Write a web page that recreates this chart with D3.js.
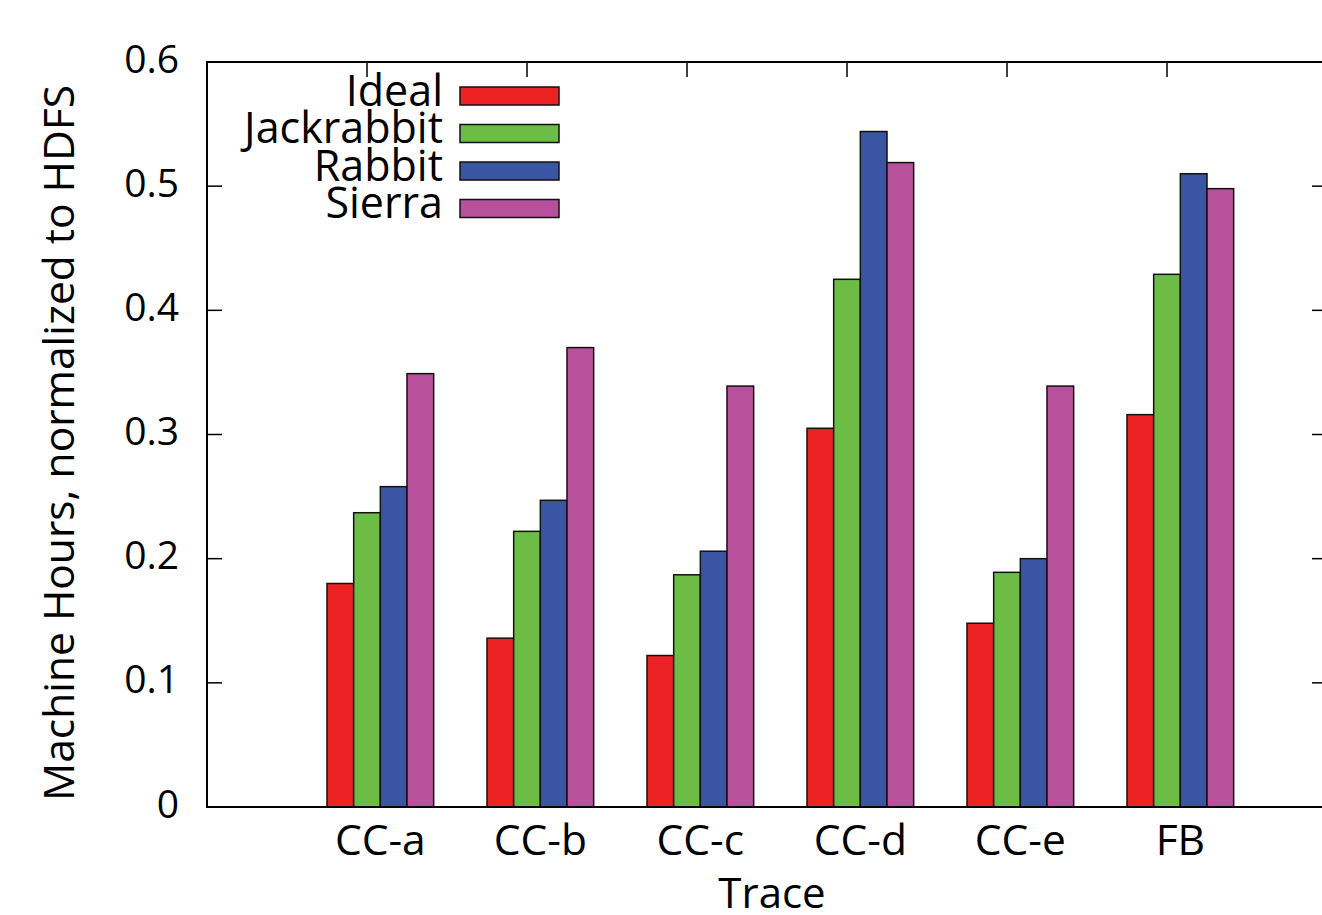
<!DOCTYPE html>
<html>
<head>
<meta charset="utf-8">
<script src="https://cdn.jsdelivr.net/npm/d3@7"></script>
<style>
  body { margin: 0; background: #fff; }
  text { font-family: "Open Sans", sans-serif; fill: #000; }
</style>
</head>
<body>
<div class="chart"></div>
<script>
// data
const traces = ["CC-a", "CC-b", "CC-c", "CC-d", "CC-e", "FB"];
const seriesNames = ["Ideal", "Jackrabbit", "Rabbit", "Sierra"];
const ideal      = [0.180, 0.136, 0.122, 0.305, 0.148, 0.316];
const jackrabbit = [0.237, 0.222, 0.187, 0.425, 0.189, 0.429];
const rabbit     = [0.258, 0.247, 0.206, 0.544, 0.200, 0.510];
const sierra     = [0.349, 0.370, 0.339, 0.519, 0.339, 0.498];
const yTicks = [0, 0.1, 0.2, 0.3, 0.4, 0.5, 0.6];
const colors = ["#ed2224", "#6bbd45", "#3a55a4", "#b7519c"];

const series = [ideal, jackrabbit, rabbit, sierra];

const W = 1322, H = 915;
const margin = ({top: 62, left: 207, bottom: 108});
const plotRight = 1327;   // right border sits just outside the picture
const height = H - margin.top - margin.bottom;

const svg = d3.select(".chart")
  .append("svg")
  .attr("width", W)
  .attr("height", H);

// x: gnuplot-style histogram coordinates, clusters at 0..5
const xScale = d3.scaleLinear().domain([-1, 6]).range([margin.left, plotRight]);
const yScale = d3.scaleLinear().domain([0, 0.6]).range([margin.top + height, margin.top]);

const barW = xScale(1 / 6) - xScale(0);
const barStart = (i, j) => xScale(i - 0.25 + j / 6);

const tickLen = 15;
const y0 = yScale(0), yTop = yScale(0.6);

// tick marks (inward, mirrored)
const ticks = svg.append("g").attr("stroke", "#000").attr("stroke-width", 1.5);
ticks.selectAll(".yl").data(yTicks).join("line")
  .attr("x1", margin.left).attr("x2", margin.left + tickLen)
  .attr("y1", d => yScale(d)).attr("y2", d => yScale(d));
ticks.selectAll(".yr").data(yTicks).join("line")
  .attr("class", "yr")
  .attr("x1", plotRight).attr("x2", plotRight - tickLen)
  .attr("y1", d => yScale(d)).attr("y2", d => yScale(d));
ticks.selectAll(".xt").data(d3.range(traces.length)).join("line")
  .attr("class", "xt")
  .attr("x1", d => xScale(d)).attr("x2", d => xScale(d))
  .attr("y1", yTop).attr("y2", yTop + tickLen);
ticks.selectAll(".xb").data(d3.range(traces.length)).join("line")
  .attr("class", "xb")
  .attr("x1", d => xScale(d)).attr("x2", d => xScale(d))
  .attr("y1", y0).attr("y2", y0 - tickLen);

// bars
const bars = [];
traces.forEach((t, i) => {
  series.forEach((s, j) => bars.push({i: i, j: j, v: s[i]}));
});
svg.append("g").selectAll("rect").data(bars).join("rect")
  .attr("x", d => barStart(d.i, d.j))
  .attr("y", d => yScale(d.v))
  .attr("width", barW)
  .attr("height", d => y0 - yScale(d.v))
  .attr("fill", d => colors[d.j])
  .attr("stroke", "#111")
  .attr("stroke-width", 1.5);

// frame
svg.append("rect")
  .attr("x", margin.left).attr("y", yTop)
  .attr("width", plotRight - margin.left).attr("height", y0 - yTop)
  .attr("fill", "none").attr("stroke", "#000").attr("stroke-width", 2);

// y tick labels
svg.append("g").selectAll("text").data(yTicks).join("text")
  .attr("x", 179)
  .attr("y", d => yScale(d) + 10.5)
  .attr("text-anchor", "end")
  .attr("font-size", 39)
  .text(d => d === 0 ? "0" : d3.format(".1f")(d));

// x tick labels
svg.append("g").selectAll("text").data(traces).join("text")
  .attr("x", (d, i) => xScale(i + 1 / 12))
  .attr("y", 855)
  .attr("text-anchor", "middle")
  .attr("font-size", 42.5)
  .text(d => d);

// axis titles
svg.append("text")
  .attr("x", (margin.left + plotRight) / 2 + 5).attr("y", 908)
  .attr("text-anchor", "middle")
  .attr("font-size", 42)
  .text("Trace");

svg.append("text")
  .attr("transform", "translate(74,443) rotate(-90)")
  .attr("text-anchor", "middle")
  .attr("font-size", 42.5)
  .text("Machine Hours, normalized to HDFS");

// legend
const legend = svg.append("g");
seriesNames.forEach((name, j) => {
  const cy = 96 + j * 37.5;
  legend.append("text")
    .attr("x", 443).attr("y", cy + 9.5)
    .attr("text-anchor", "end")
    .attr("font-size", 43)
    .text(name);
  legend.append("rect")
    .attr("x", 460).attr("y", cy - 9)
    .attr("width", 99).attr("height", 18)
    .attr("fill", colors[j])
    .attr("stroke", "#111")
    .attr("stroke-width", 1.5);
});
</script>
</body>
</html>
